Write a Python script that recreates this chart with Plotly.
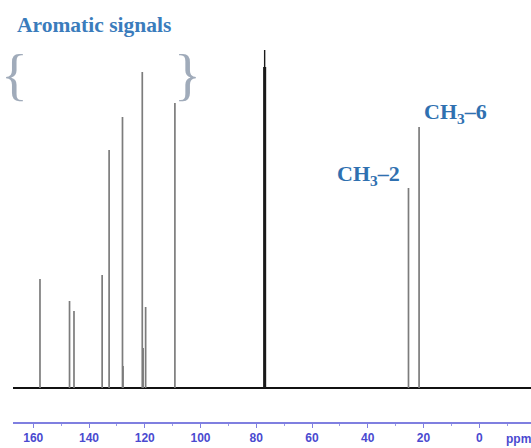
import plotly.graph_objects as go

# 13C NMR peak list (ppm) and relative intensities
aromatic_ppm = [157.6, 147.0, 145.4, 135.3, 132.8, 128.0, 127.8, 120.9, 120.6, 119.7, 109.2]
aromatic_int = [109, 87, 77, 113, 238, 271, 22, 316, 40, 81, 285]
solvent_ppm = [77.3, 77.0, 76.7]          # CDCl3 triplet
solvent_int = [321, 338, 321]
methyl_ppm = [25.4, 21.6]
methyl_int = [200, 261]
methyl_labels = ["CH<sub>3</sub>–2", "CH<sub>3</sub>–6"]

tick_vals = [160, 140, 120, 100, 80, 60, 40, 20, 0]
tick_text = [str(v) for v in tick_vals]

W, H = 531, 448
ML, MB = 13, 26
X_RANGE = [167.28, -18.55]
Y_RANGE = [-34, 388]


def px_x(px):
    return (px - ML) / (W - ML)


def px_y(py):
    return (H - MB - py) / (H - MB)


def sticks(ppm, inten):
    xs, ys = [], []
    for p, h in zip(ppm, inten):
        xs += [p, p, None]
        ys += [0, h, None]
    return xs, ys


fig = go.Figure()

# baseline
fig.add_trace(go.Scatter(x=[X_RANGE[0], X_RANGE[1]], y=[0, 0], mode="lines",
                         line=dict(color="#111111", width=2), hoverinfo="skip"))

ax, ay = sticks(aromatic_ppm, aromatic_int)
fig.add_trace(go.Scatter(x=ax, y=ay, mode="lines",
                         line=dict(color="#7c7c7c", width=1.7), hoverinfo="skip"))
sx, sy = sticks(solvent_ppm, solvent_int)
fig.add_trace(go.Scatter(x=sx, y=sy, mode="lines",
                         line=dict(color="#1a1a1a", width=1.4), hoverinfo="skip"))
mx, my = sticks(methyl_ppm, methyl_int)
fig.add_trace(go.Scatter(x=mx, y=my, mode="lines",
                         line=dict(color="#7c7c7c", width=1.7), hoverinfo="skip"))

label_col = "#2f70b0"
serif = "Liberation Serif"
brace_font = dict(family=serif, size=56, color="#a0abba")

annotations = [
    dict(x=px_x(15), y=px_y(25), xref="paper", yref="paper", text="Aromatic signals",
         showarrow=False, xanchor="left", yanchor="middle",
         font=dict(family=serif, size=21.5, color="#3a7cbc", weight="bold")),
    dict(x=px_x(14), y=px_y(75), xref="paper", yref="paper", text="{",
         showarrow=False, xanchor="center", yanchor="middle", font=brace_font),
    dict(x=px_x(187), y=px_y(75), xref="paper", yref="paper", text="}",
         showarrow=False, xanchor="center", yanchor="middle", font=brace_font),
    dict(x=px_x(368), y=px_y(175), xref="paper", yref="paper", text=methyl_labels[0],
         showarrow=False, xanchor="center", yanchor="middle",
         font=dict(family=serif, size=22, color=label_col, weight="bold")),
    dict(x=px_x(455), y=px_y(113), xref="paper", yref="paper", text=methyl_labels[1],
         showarrow=False, xanchor="center", yanchor="middle",
         font=dict(family=serif, size=22, color=label_col, weight="bold")),
    dict(x=px_x(504), y=px_y(439), xref="paper", yref="paper", text="ppm",
         showarrow=False, xanchor="left", yanchor="middle",
         font=dict(family="Liberation Sans", size=12, color="#4a4ad0", weight="bold")),
]

fig.update_layout(
    width=W, height=H,
    margin=dict(l=ML, r=0, t=0, b=MB, pad=0),
    paper_bgcolor="white", plot_bgcolor="white",
    showlegend=False,
    annotations=annotations,
    xaxis=dict(range=X_RANGE, showgrid=False, zeroline=False,
               showline=True, linecolor="#7f7fe0", linewidth=1.5,
               ticks="outside", ticklen=4, tickwidth=1, tickcolor="#7f7fe0",
               tickvals=tick_vals, ticktext=tick_text,
               tickfont=dict(family="Liberation Sans", size=12, color="#4a4ad0", weight="bold"),
               minor=dict(dtick=10, ticks="outside", ticklen=2, tickcolor="#9a9ae8"),
               fixedrange=True),
    yaxis=dict(range=Y_RANGE, visible=False, fixedrange=True),
)

fig.write_html("out.html", config={"displayModeBar": False})
